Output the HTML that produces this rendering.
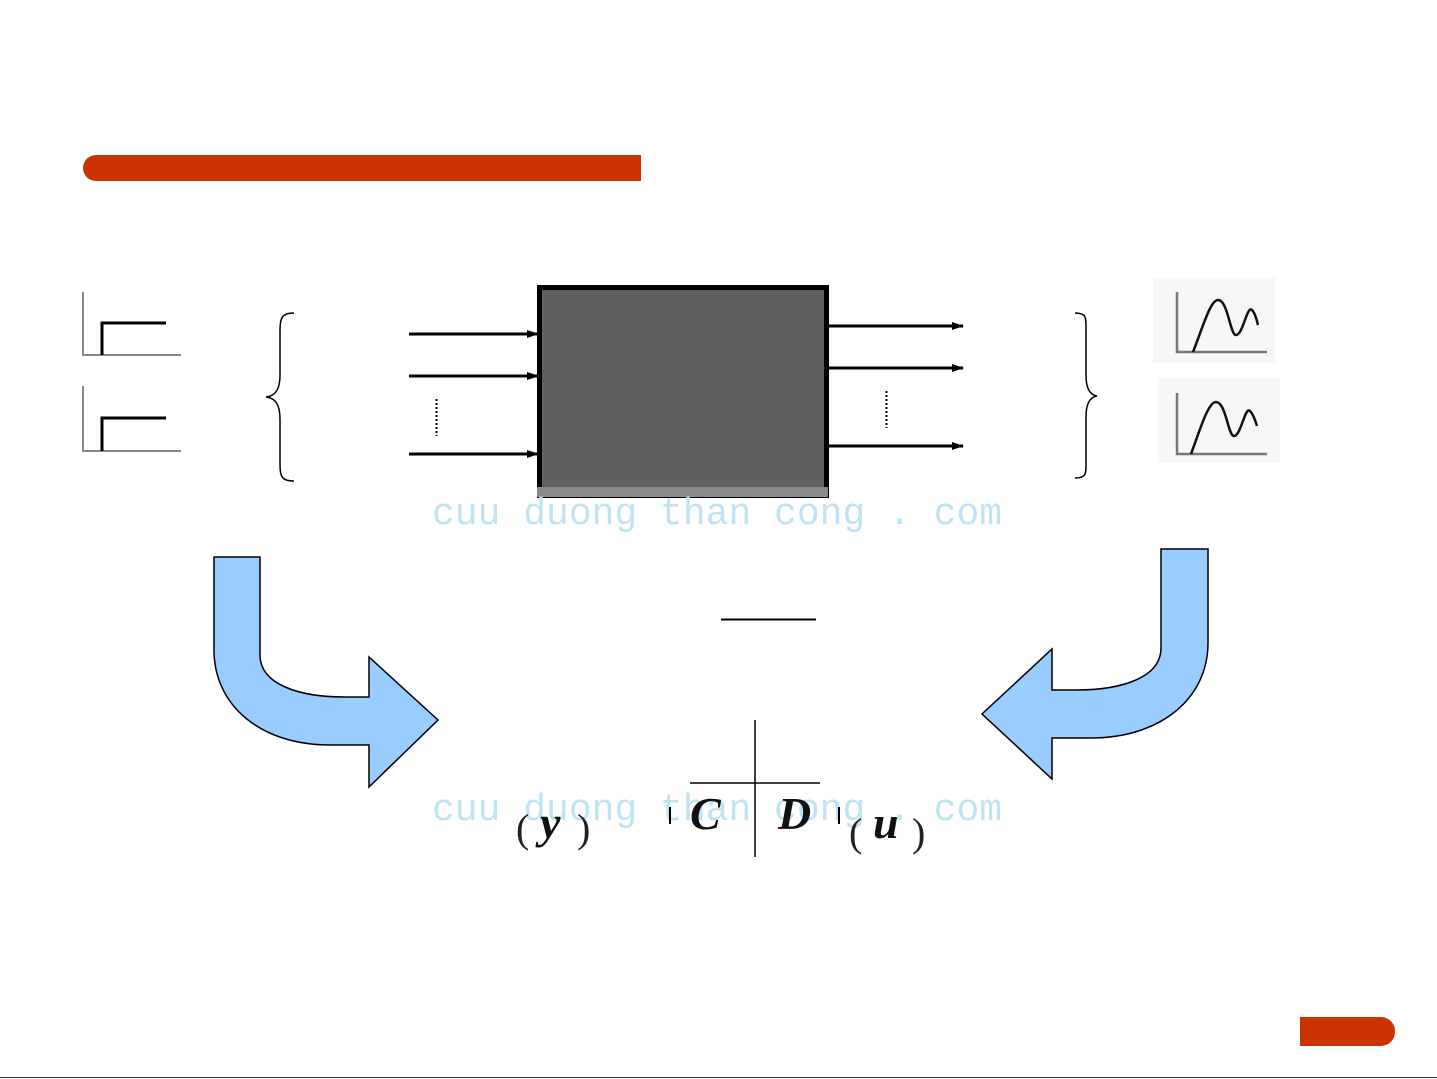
<!DOCTYPE html>
<html><head><meta charset="utf-8"><style>
body{margin:0;background:#fff}
svg{display:block}
.wm{font-family:"Liberation Mono",monospace;font-size:38px;fill:#bfe3f3}
.m{font-family:"Liberation Serif",serif;font-style:italic;font-weight:bold;font-size:46px;fill:#111}
.p{font-family:"Liberation Serif",serif;font-size:40px;fill:#222}
</style></head><body>
<svg width="1437" height="1079" viewBox="0 0 1437 1079" xmlns="http://www.w3.org/2000/svg">
<defs><marker id="ah" markerWidth="12" markerHeight="8" refX="11" refY="4" orient="auto" markerUnits="userSpaceOnUse"><path d="M0,0 L12,4 L0,8 Z" fill="#000"/></marker></defs>
<path d="M96,155 H641 V181 H96 A13,13 0 0 1 96,155 Z" fill="#cc3300"/>
<rect x="1300" y="1017" width="95" height="29" rx="14" fill="#cc3300"/>
<rect x="1300" y="1017" width="20" height="29" fill="#cc3300"/>
<line x1="0" y1="1077.5" x2="1437" y2="1077.5" stroke="#333" stroke-width="1"/>
<!-- step plots -->
<g fill="none">
<path d="M83,292 V355 H181" stroke="#888" stroke-width="2"/>
<path d="M102,355 V323 H166" stroke="#000" stroke-width="3"/>
<path d="M83,386 V451 H181" stroke="#888" stroke-width="2"/>
<path d="M102,451 V418 H166" stroke="#000" stroke-width="3"/>
</g>
<!-- response plots -->
<rect x="1153" y="278" width="122" height="85" fill="#f7f7f7"/>
<rect x="1158" y="378" width="122" height="85" fill="#f7f7f7"/>
<g fill="none" stroke-width="2.5">
<path d="M1177,292 V352 H1267" stroke="#777"/>
<path d="M1193,352 C1202,330 1210,300 1218,300 C1228,300 1230,335 1236,335 C1243,335 1247,305 1252,310 C1256,314 1257,322 1258,325" stroke="#111"/>
<path d="M1177,393 V454 H1267" stroke="#777"/>
<path d="M1191,454 C1200,430 1208,402 1216,402 C1226,402 1228,436 1234,436 C1241,436 1245,406 1250,411 C1254,415 1256,423 1257,426" stroke="#111"/>
</g>
<!-- braces -->
<path d="M294,313 C282,313 280,318 280,330 V375 C280,390 275,396 266,397 C275,398 280,404 280,419 V465 C280,477 282,481 294,481" fill="none" stroke="#000" stroke-width="1.5"/>
<path d="M1075,313 C1087,313 1086,318 1086,330 V375 C1086,388 1090,395 1097,396 C1090,397 1086,404 1086,417 V461 C1086,473 1087,478 1075,478" fill="none" stroke="#000" stroke-width="1.5"/>
<!-- box -->
<rect x="539.5" y="287.5" width="287" height="208" fill="#606060" stroke="#000" stroke-width="5"/>
<rect x="537" y="487" width="291" height="10" fill="#8a8a8a"/>
<!-- arrows -->
<g stroke="#000" stroke-width="3">
<line x1="409" y1="334" x2="538" y2="334" marker-end="url(#ah)"/>
<line x1="409" y1="376" x2="538" y2="376" marker-end="url(#ah)"/>
<line x1="409" y1="454" x2="538" y2="454" marker-end="url(#ah)"/>
<line x1="828" y1="326" x2="963" y2="326" marker-end="url(#ah)"/>
<line x1="828" y1="368" x2="963" y2="368" marker-end="url(#ah)"/>
<line x1="828" y1="446" x2="963" y2="446" marker-end="url(#ah)"/>
</g>
<line x1="436.5" y1="399" x2="436.5" y2="436" stroke="#000" stroke-width="2" stroke-dasharray="2,2"/>
<line x1="886.5" y1="391" x2="886.5" y2="428" stroke="#000" stroke-width="2" stroke-dasharray="2,2"/>
<!-- big curved arrows -->
<path d="M214,557 H260 V655 C260,685 300,697 345,697 H369 V657 L438,720 L369,787 V745 H330 C260,745 214,705 214,650 Z" fill="#99ccff" stroke="#000" stroke-width="1.5"/>
<path d="M1208,549 H1161 V648 C1161,678 1121,690 1076,690 H1052 V649 L982,714 L1052,779 V738 H1091 C1161,738 1208,698 1208,643 Z" fill="#99ccff" stroke="#000" stroke-width="1.5"/>
<!-- watermarks -->
<text class="wm" x="432" y="524">cuu duong than cong . com</text>
<text class="wm" x="432" y="820">cuu duong than cong . com</text>
<!-- formula -->
<line x1="721" y1="619.5" x2="816" y2="619.5" stroke="#000" stroke-width="2"/>
<line x1="755" y1="720" x2="755" y2="857" stroke="#000" stroke-width="1.5"/>
<line x1="690" y1="783" x2="820" y2="783" stroke="#000" stroke-width="1.5"/>
<text class="p" x="516" y="842">(</text>
<text class="m" x="540" y="838">y</text>
<text class="p" x="577" y="842">)</text>
<line x1="670" y1="807" x2="670" y2="824" stroke="#000" stroke-width="2"/>
<text class="m" x="690" y="829">C</text>
<text class="m" x="778" y="829">D</text>
<line x1="839" y1="807" x2="839" y2="824" stroke="#000" stroke-width="2"/>
<text class="p" x="849" y="846">(</text>
<text class="m" x="873" y="838">u</text>
<text class="p" x="912" y="846">)</text>
</svg>
</body></html>
